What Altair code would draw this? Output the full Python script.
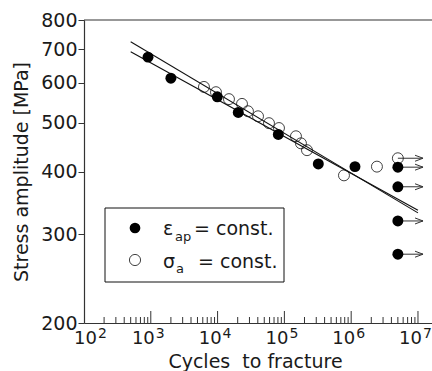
import altair as alt
import pandas as pd

# ---------------- data ----------------
eps_N = [908, 2000, 9900, 20400, 81100, 322000, 1140000]
eps_S = [675, 613, 563, 524, 474, 414, 409]
eps_runout_N = [5.0e6, 5.0e6, 5.0e6, 5.0e6]
eps_runout_S = [408, 373, 319, 274]

sig_N = [6250, 9460, 14800, 23200, 28500, 40300, 58800, 83000,
         149000, 177000, 218000, 780000, 2430000]
sig_S = [589, 575, 557, 545, 527, 515, 499, 488, 470, 455, 441, 393, 409]
sig_runout_N = [5.0e6]
sig_runout_S = [425]

arrow_tip_N = 1.19e7

fitA_N = [500, 1.0e7]
fitA_S = [724, 331]
fitB_N = [500, 1.0e7]
fitB_S = [692, 335]

y_ticks = [200, 300, 400, 500, 600, 700, 800]
x_decades = [2, 3, 4, 5, 6, 7]
minor_k = [2, 3, 4, 5, 6, 7, 8, 9]

# ---------------- tables ----------------
W, H = 348, 303
FONT = "DejaVu Sans"
INK = "#1a1a1a"
LINE = "#333333"

filled = pd.DataFrame({"N": eps_N + eps_runout_N, "S": eps_S + eps_runout_S})
opened = pd.DataFrame({"N": sig_N + sig_runout_N, "S": sig_S + sig_runout_S})
run_S = eps_runout_S + sig_runout_S
arrows = pd.DataFrame({
    "N": eps_runout_N + sig_runout_N,
    "N2": [arrow_tip_N] * len(run_S),
    "S": run_S,
})
heads = pd.DataFrame({"N": [arrow_tip_N] * len(run_S), "S": run_S})
fits = pd.DataFrame({
    "N": fitA_N + fitB_N,
    "S": fitA_S + fitB_S,
    "line": ["A"] * len(fitA_N) + ["B"] * len(fitB_N),
})
major = pd.DataFrame({"N": [10.0 ** d for d in x_decades[1:]]})
minor = pd.DataFrame({"N": [k * 10.0 ** d for d in x_decades[:-1] for k in minor_k]})
labels_first = pd.DataFrame({"N": [10.0 ** x_decades[0]], "base": ["10"], "exp": [str(x_decades[0])]})
labels_rest = pd.DataFrame({"N": [10.0 ** d for d in x_decades[1:]],
                            "base": ["10"] * (len(x_decades) - 1),
                            "exp": [str(d) for d in x_decades[1:]]})
one = pd.DataFrame({"a": [0]})

# ---------------- scales / axes ----------------
xscale = alt.Scale(type="log", domain=[100, 10 ** 7.21], nice=False)
yscale = alt.Scale(type="log", domain=[200, 800], nice=False)

xaxis = alt.Axis(labels=False, ticks=False, grid=False, domainColor=LINE, domainWidth=1.2,
                 title="Cycles\u00a0 to fracture", titleFont=FONT, titleFontSize=19,
                 titleFontWeight="normal", titleColor=INK, titleX=171, titleY=44,
                 titleAlign="center", titleBaseline="alphabetic")
yaxis = alt.Axis(values=y_ticks, format="d", grid=False, domainColor=LINE, domainWidth=1.2,
                 tickColor=LINE, tickSize=6, tickWidth=1, labelFont=FONT, labelFontSize=19,
                 labelColor=INK, labelPadding=1, labelOverlap=False,
                 title="Stress amplitude [MPa]", titleFont=FONT, titleFontSize=19,
                 titleFontWeight="normal", titleColor=INK, titleX=-57, titleY=H / 2,
                 titleAngle=-90, titleAlign="center", titleBaseline="alphabetic")

X = alt.X("N:Q", scale=xscale, axis=xaxis)
Y = alt.Y("S:Q", scale=yscale, axis=yaxis)

# ---------------- layers ----------------
fit_layer = alt.Chart(fits).mark_line(color="#111111", strokeWidth=1.1).encode(
    x=X, y=Y, detail="line:N")

arrow_lines = alt.Chart(arrows).mark_rule(color="#333333", strokeWidth=1).encode(
    x=X, x2="N2:Q", y=Y)
arrow_heads = alt.Chart(heads).mark_point(
    shape="M-2,-0.75L0,0L-2,0.75", filled=False, color="#333333", strokeWidth=1,
    size=64, opacity=1).encode(x=X, y=Y)

open_layer = alt.Chart(opened).mark_point(
    shape="circle", filled=False, color="#111111", strokeWidth=0.8, size=120, opacity=1).encode(
    x=X, y=Y)
filled_layer = alt.Chart(filled).mark_point(
    shape="circle", filled=True, color="#000000", size=120, opacity=1).encode(
    x=X, y=Y)

top_line = alt.Chart(one).mark_rule(color=LINE, strokeWidth=1.2).encode(
    x=alt.value(0), x2=alt.value(W), y=alt.value(0))

major_ticks = alt.Chart(major).mark_rule(color=LINE, strokeWidth=1).encode(
    x=X, y=alt.value(H), y2=alt.value(H - 12))
minor_ticks = alt.Chart(minor).mark_rule(color=LINE, strokeWidth=1).encode(
    x=X, y=alt.value(H), y2=alt.value(H - 6))

base_first = alt.Chart(labels_first).mark_text(
    align="right", baseline="alphabetic", dx=13, font=FONT, fontSize=18, color=INK).encode(
    x=X, y=alt.value(324.3), text="base:N")
exp_first = alt.Chart(labels_first).mark_text(
    align="left", baseline="alphabetic", dx=14, font=FONT, fontSize=14, color=INK).encode(
    x=X, y=alt.value(317.5), text="exp:N")
base_rest = alt.Chart(labels_rest).mark_text(
    align="right", baseline="alphabetic", dx=4, font=FONT, fontSize=18, color=INK).encode(
    x=X, y=alt.value(324.3), text="base:N")
exp_rest = alt.Chart(labels_rest).mark_text(
    align="left", baseline="alphabetic", dx=5, font=FONT, fontSize=14, color=INK).encode(
    x=X, y=alt.value(317.5), text="exp:N")

# legend (drawn by hand, as in the reference)
leg_box = alt.Chart(one).mark_rect(fill="white", stroke="#111111", strokeWidth=1).encode(
    x=alt.value(21), x2=alt.value(200), y=alt.value(188), y2=alt.value(262))
leg_filled = alt.Chart(one).mark_point(shape="circle", filled=True, color="#000000",
                                       size=115, opacity=1).encode(
    x=alt.value(51), y=alt.value(208))
leg_open = alt.Chart(one).mark_point(shape="circle", filled=False, color="#111111",
                                     strokeWidth=0.8, size=125, opacity=1).encode(
    x=alt.value(51), y=alt.value(240))


def txt(s, x, y, size):
    return alt.Chart(one).mark_text(align="left", baseline="alphabetic", font=FONT,
                                    fontSize=size, color=INK, text=s).encode(
        x=alt.value(x), y=alt.value(y))


leg_texts = [
    txt("\u03b5", 79, 214.5, 19),
    txt("ap", 91, 220.5, 13),
    txt("= const.", 110, 214.5, 19),
    txt("\u03c3", 79, 247.7, 19),
    txt("a", 92, 252.5, 13),
    txt("= const.", 114, 247.7, 19),
]

chart = alt.layer(
    fit_layer, arrow_lines, arrow_heads, open_layer, filled_layer,
    top_line, major_ticks, minor_ticks,
    base_first, exp_first, base_rest, exp_rest,
    leg_box, leg_filled, leg_open, *leg_texts,
).properties(
    width=W, height=H,
    autosize=alt.AutoSizeParams(type="none"),
    padding={"left": 84, "top": 20, "right": 0, "bottom": 48},
    background="white",
).configure_view(stroke=None)

chart.save("out.html", embed_options={"renderer": "svg", "actions": False})
